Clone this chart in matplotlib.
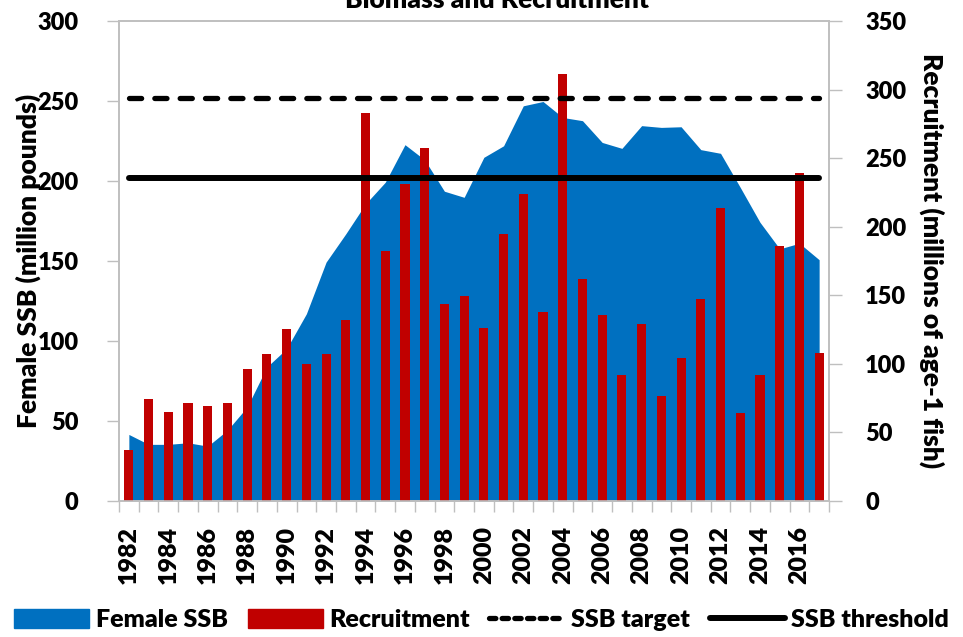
import matplotlib
matplotlib.use("Agg")
import matplotlib.pyplot as plt
import numpy as np
from matplotlib.patches import Patch
from matplotlib.lines import Line2D

years = list(range(1982, 2018))
ssb = [41.6, 35.4, 35.4, 36.4, 34.3, 44.3, 58.8, 83.8, 95.2, 117.0,
       149.3, 167.0, 185.7, 199.2, 222.7, 213.2, 193.6, 189.8, 214.8, 222.0,
       247.0, 249.7, 239.7, 237.7, 224.1, 220.4, 234.6, 233.5, 233.9, 219.6,
       217.3, 196.0, 174.2, 157.6, 161.1, 150.8]
recruitment = [37.0, 74.7, 65.0, 71.8, 69.0, 71.6, 96.6, 107.5, 125.7, 100.2,
               107.5, 131.7, 282.6, 182.0, 231.4, 257.2, 143.9, 149.2, 126.4, 194.8,
               224.0, 137.8, 311.7, 161.6, 135.9, 92.2, 128.8, 76.9, 104.3, 147.3,
               213.7, 64.5, 92.2, 186.3, 239.0, 108.2]
ssb_target = 252.0
ssb_threshold = 201.6

title = "Biomass and Recruitment"
left_label = "Female SSB (million pounds)"
right_label = "Recruitment (millions of age-1 fish)"
legend_labels = ["Female SSB", "Recruitment", "SSB target", "SSB threshold"]

BLUE = "#0070C0"
RED = "#C00000"
GRAY = "#BFBFBF"
FONT = "Lato"
W = 'heavy'
FS = 17
FSL = 19

plt.rcParams['font.family'] = [FONT, 'DejaVu Sans']
plt.rcParams['font.weight'] = W

fig = plt.figure(figsize=(9.63, 6.37), dpi=100)
ax = fig.add_axes([119/963, 1-501/637, (829-119)/963, (501-21)/637])
ax2 = ax.twinx()
ax3 = ax.twinx()

x = np.arange(len(years))
ax.fill_between(x, 0, ssb, color=BLUE, linewidth=0)
ax2.bar(x, recruitment, width=0.46, color=RED, linewidth=0)

ax3.plot([x[0], x[-1]], [ssb_target]*2, color='black', lw=3.8,
         linestyle=(0, (2.3, 2.5)), dash_capstyle='round', solid_capstyle='round')
ax3.plot([x[0], x[-1]], [ssb_threshold]*2, color='black', lw=4.3,
         solid_capstyle='round')

for a in (ax, ax2, ax3):
    a.set_xlim(-0.5, len(years)-0.5)
ax.set_ylim(0, 300)
ax3.set_ylim(0, 300)
ax2.set_ylim(0, 350)

ax.set_yticks(np.arange(0, 301, 50))
ax2.set_yticks(np.arange(0, 351, 50))
ax3.set_yticks([])
ax3.axis('off')

ax.set_xticks(np.arange(-0.5, len(years)+0.5, 1.0))
ax.set_xticklabels([])
ax.set_xticks(x[::2], minor=True)
ax.set_xticklabels([str(y) for y in years[::2]], minor=True, rotation=90,
                   fontsize=FS+1, fontweight=W)
ax.tick_params(axis='x', which='major', direction='out', length=8, color=GRAY, width=1)
ax.tick_params(axis='x', which='minor', length=0, pad=18)
ax2.tick_params(axis='x', which='both', length=0, labelbottom=False)

ax.tick_params(axis='y', direction='out', length=9, color=GRAY, width=1,
               labelsize=FS, pad=20)
ax2.tick_params(axis='y', direction='out', length=9, color=GRAY, width=1,
                labelsize=FS, pad=17)
for lab in ax.get_yticklabels() + ax2.get_yticklabels():
    lab.set_fontweight(W)

for a in (ax, ax2):
    for s in a.spines.values():
        s.set_color(GRAY)
        s.set_linewidth(1.2)

ax.set_ylabel(left_label, fontsize=FSL, fontweight=W, va='center')
ax.yaxis.set_label_coords((28-119)/710, 0.5)
ax2.set_ylabel(right_label, fontsize=FSL, fontweight=W, rotation=-90, va='center')
ax2.yaxis.set_label_coords((932-119)/710, 0.5)

fig.text(0.516, 1.0, title, ha='center', va='center', fontsize=FS+2, fontweight=W)

handles = [Patch(color=BLUE), Patch(color=RED),
           Line2D([], [], color='black', lw=3.8, linestyle=(0, (1.2, 1.2)), dash_capstyle='round'),
           Line2D([], [], color='black', lw=4.3, solid_capstyle='round')]
fig.legend(handles, legend_labels, loc='center', bbox_to_anchor=(0.5, 1-620/637),
           ncol=4, frameon=False, handlelength=3.0, handleheight=0.8,
           handletextpad=0.25, columnspacing=0.8, borderaxespad=0,
           prop={'weight': W, 'size': FS+1})

fig.savefig("out.png", dpi=100)
